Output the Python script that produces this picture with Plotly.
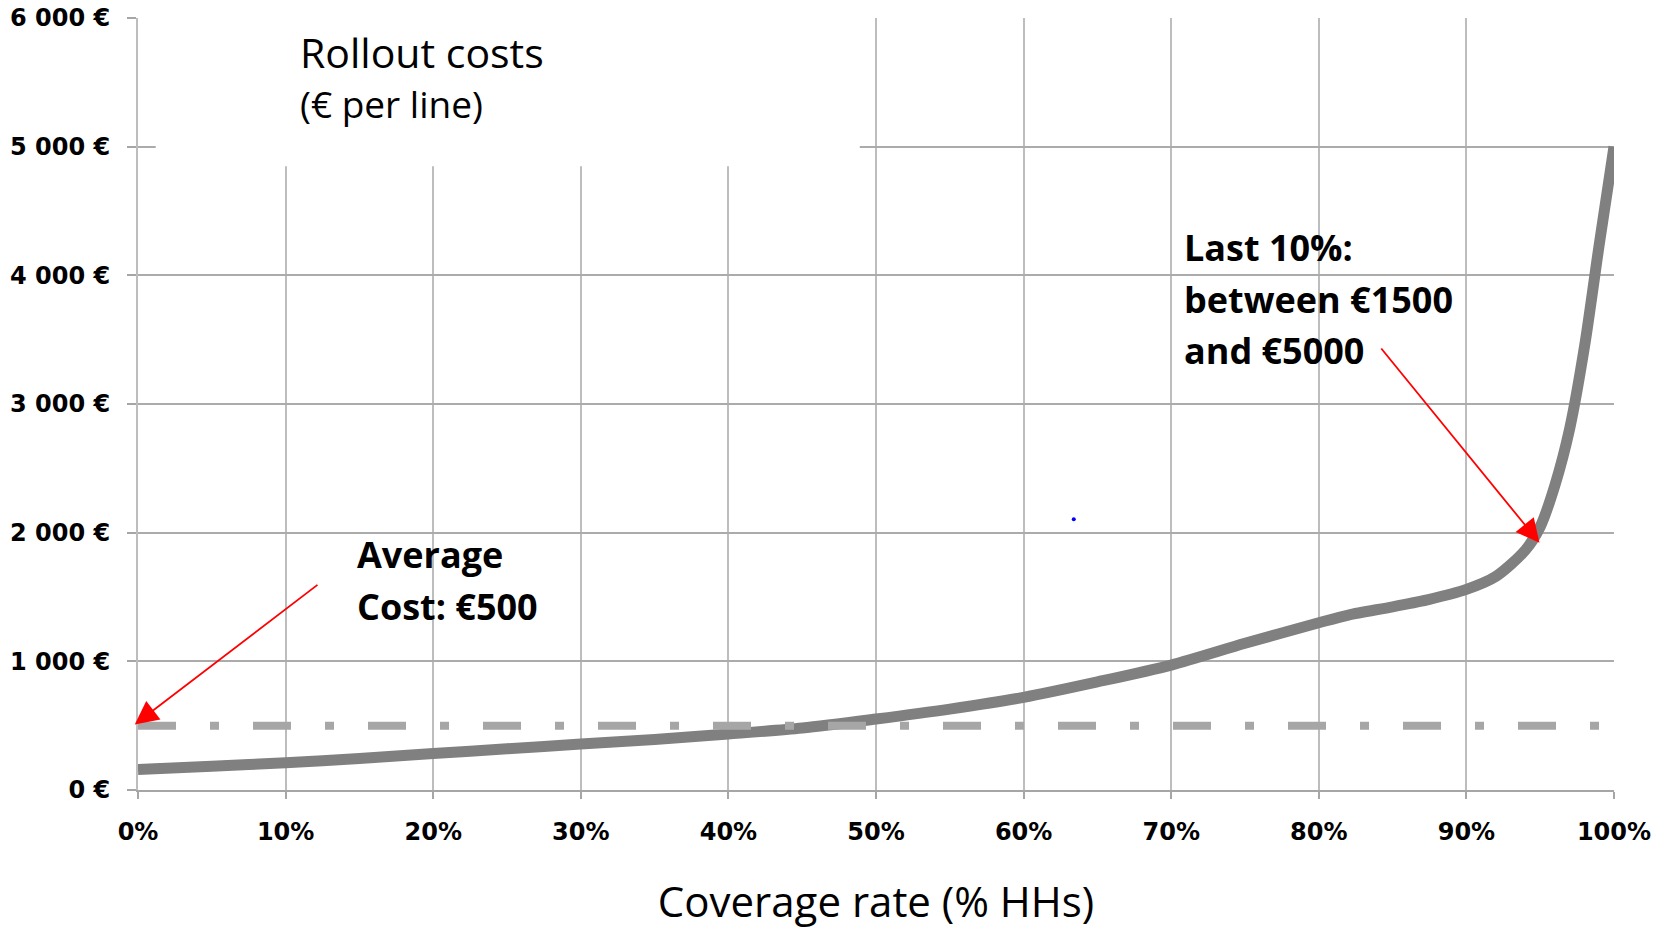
import plotly.graph_objects as go

# ---- data ----
coverage_pct = [0, 5, 10, 15, 20, 25, 30, 35, 40, 45, 50, 55, 60, 65, 70, 75, 80, 82,
                85, 87.5, 90, 92, 94, 95, 96, 97, 98, 99, 100]
cost_eur = [160, 185, 212, 245, 283, 320, 357, 393, 435, 482, 552, 629, 720, 840, 971,
            1140, 1300, 1360, 1424, 1482, 1559, 1660, 1865, 2046, 2370, 2810, 3445, 4240, 5000]

avg_x = [0, 100]
avg_cost = [500, 500]

artifact_x = [63.4]
artifact_y = [2104]

y_tickvals = [0, 1000, 2000, 3000, 4000, 5000, 6000]
y_ticktext = ["0 €", "1 000 €", "2 000 €", "3 000 €", "4 000 €", "5 000 €", "6 000 €"]
x_tickvals = [0, 10, 20, 30, 40, 50, 60, 70, 80, 90, 100]
x_ticktext = ["0%", "10%", "20%", "30%", "40%", "50%", "60%", "70%", "80%", "90%", "100%"]

fig = go.Figure()

fig.add_trace(go.Scatter(
    x=coverage_pct, y=cost_eur, mode="lines",
    line=dict(color="#808080", width=11, shape="spline", smoothing=0.8),
    hoverinfo="skip", showlegend=False))

fig.add_trace(go.Scatter(
    x=avg_x, y=avg_cost, mode="lines",
    line=dict(color="#A6A6A6", width=8, dash="38px,34px,9px,34px"),
    hoverinfo="skip", showlegend=False))

fig.add_trace(go.Scatter(
    x=artifact_x, y=artifact_y, mode="markers",
    marker=dict(color="#0000FF", size=4),
    hoverinfo="skip", showlegend=False))

# white box behind title (covers gridlines)
fig.add_shape(type="rect", xref="x", yref="y", x0=1.2, x1=48.9, y0=4848, y1=6000,
              fillcolor="white", line=dict(width=0), layer="between")

reg = dict(family="Open Sans", color="black")
bold = dict(family="Open Sans", color="black", weight="bold", size=36)

ann = []
ann.append(dict(x=10.87, y=5735, xref="x", yref="y", text="Rollout costs", showarrow=False,
                xanchor="left", yanchor="middle", font=dict(size=41, **reg)))
ann.append(dict(x=10.87, y=5335, xref="x", yref="y", text="(€ per line)", showarrow=False,
                xanchor="left", yanchor="middle", font=dict(size=37, **reg)))
for txt, yy in [("Average", 1834), ("Cost: €500", 1430)]:
    ann.append(dict(x=14.72, y=yy, xref="x", yref="y", text=txt, showarrow=False,
                    xanchor="left", yanchor="middle", font=bold))
for txt, yy in [("Last 10%:", 4220), ("between €1500", 3816), ("and €5000", 3416)]:
    ann.append(dict(x=70.7, y=yy, xref="x", yref="y", text=txt, showarrow=False,
                    xanchor="left", yanchor="middle", font=bold))
# arrows
ann.append(dict(x=-0.22, y=510, ax=12.26, ay=1603, xref="x", yref="y", axref="x", ayref="y",
                text="", showarrow=True, arrowhead=2, arrowsize=2.6, arrowwidth=1.8,
                arrowcolor="#FF0000", standoff=0))
ann.append(dict(x=94.95, y=1922, ax=84.15, ay=3443, xref="x", yref="y", axref="x", ayref="y",
                text="", showarrow=True, arrowhead=2, arrowsize=2.6, arrowwidth=1.8,
                arrowcolor="#FF0000", standoff=0))

fig.update_layout(
    width=1670, height=931,
    margin=dict(l=138, r=56, t=18, b=141),
    paper_bgcolor="white", plot_bgcolor="white",
    annotations=ann,
    xaxis=dict(
        range=[0, 100], tickvals=x_tickvals, ticktext=x_ticktext, automargin=False,
        showgrid=True, gridcolor="#BDBDBD", gridwidth=2,
        zeroline=False, showline=True, linecolor="#A6A6A6", linewidth=2,
        ticks="outside", ticklen=7, tickcolor="#A6A6A6", tickwidth=2,
        tickfont=dict(family="DejaVu Sans", size=24, color="black", weight="bold"),
        ticklabelstandoff=12, ticklabeloverflow="allow",
        title=dict(text="Coverage rate (% HHs)", font=dict(family="Open Sans", size=42, color="black"),
                   standoff=43),
    ),
    yaxis=dict(
        range=[0, 6000], tickvals=y_tickvals, ticktext=y_ticktext, automargin=False,
        showgrid=True, gridcolor="#ABABAB", gridwidth=1.5,
        zeroline=False, showline=True, linecolor="#BDBDBD", linewidth=2,
        ticks="outside", ticklen=9, tickcolor="#A6A6A6", tickwidth=1.5,
        tickfont=dict(family="DejaVu Sans", size=24, color="black", weight="bold"),
        ticklabelstandoff=12, ticklabeloverflow="allow",
    ),
)

# remove the browser's default 8px body margin so the figure fills the window exactly
fig.write_html("out.html", config={"displayModeBar": False},
               post_script="document.body.style.margin='0';document.body.style.overflow='hidden';")
